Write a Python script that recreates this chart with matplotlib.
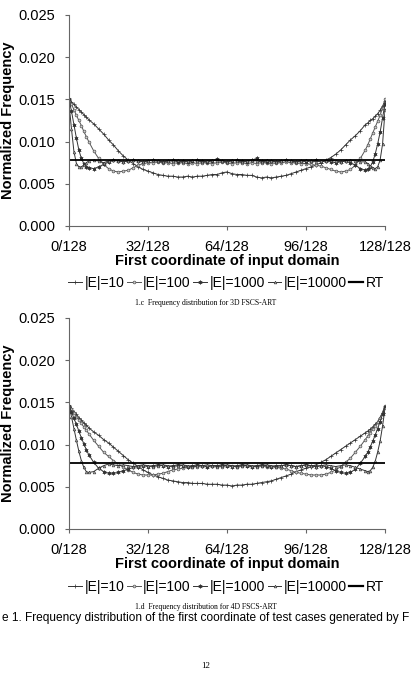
import matplotlib
matplotlib.use("Agg")
import matplotlib.pyplot as plt
from matplotlib.lines import Line2D

plt.rcParams['font.family'] = ['Liberation Sans', 'DejaVu Sans']

# x positions, in 1/128 units of the first coordinate
x = list(range(0, 9)) + list(range(10, 120, 2)) + list(range(120, 129))

# values in units of 1e-4 (normalized frequency)
# 3D FSCS-ART
e10_3d = [150, 147, 144, 141, 138, 135, 132, 129, 126,
          121, 115, 109, 102, 96, 89, 83, 78, 74, 70,
          67, 65, 63, 61, 60, 59, 59, 58, 58, 59,
          58, 59, 59, 60, 61, 61, 63, 64, 62, 61,
          61, 60, 60, 58, 57, 58, 57, 58, 59, 60,
          62, 64, 66, 68, 70, 72, 75, 78, 81, 85,
          90, 96, 102, 107, 113,
          120, 122, 125, 127, 130, 133, 137, 142, 148]
e100_3d = [150, 144, 138, 131, 125, 119, 112, 106, 100,
           89, 80, 73, 68, 65, 64, 65, 66, 69, 72,
           74, 75, 75, 76, 75, 75, 74, 75, 75, 74,
           75, 74, 75, 75, 74, 75, 76, 75, 74, 75,
           75, 74, 75, 74, 75, 75, 74, 75, 75, 76,
           75, 75, 74, 74, 73, 72, 71, 69, 67, 65,
           64, 65, 67, 72, 80,
           90, 96, 103, 110, 117, 124, 131, 140, 150]
e1000_3d = [150, 136, 120, 104, 90, 80, 74, 70, 69,
            68, 70, 73, 76, 78, 77, 76, 77, 78, 77,
            76, 77, 78, 77, 76, 77, 78, 76, 77, 76,
            77, 78, 77, 76, 77, 79, 77, 76, 77, 78,
            77, 76, 78, 80, 77, 76, 77, 76, 77, 78,
            77, 76, 77, 76, 77, 78, 76, 77, 76, 75,
            76, 77, 75, 72, 68,
            66, 67, 70, 76, 85, 97, 111, 128, 145]
e10000_3d = [145, 115, 88, 74, 70, 70, 72, 75, 77,
             78, 77, 75, 77, 78, 77, 76, 77, 78, 77,
             76, 77, 78, 77, 76, 77, 77, 78, 76, 77,
             78, 77, 76, 77, 78, 77, 77, 76, 78, 77,
             76, 77, 78, 77, 76, 78, 77, 76, 77, 78,
             77, 76, 77, 78, 77, 76, 77, 77, 78, 77,
             76, 77, 78, 77, 76,
             76, 74, 71, 69, 68, 70, 78, 97, 137]

# 4D FSCS-ART
e10_4d = [146, 143, 139, 136, 132, 129, 126, 123, 120,
          115, 111, 106, 102, 97, 92, 87, 82, 78, 74,
          70, 67, 64, 62, 60, 58, 57, 56, 55, 55,
          54, 54, 54, 53, 53, 53, 52, 52, 51, 52,
          52, 53, 53, 54, 55, 56, 57, 59, 61, 63,
          65, 68, 70, 72, 74, 76, 79, 82, 86, 90,
          94, 98, 102, 106, 110,
          114, 116, 118, 121, 124, 127, 132, 138, 145]
e100_4d = [146, 142, 138, 133, 129, 125, 121, 117, 113,
           105, 98, 91, 86, 81, 77, 73, 70, 67, 65,
           64, 64, 64, 65, 66, 68, 70, 71, 72, 73,
           74, 74, 75, 74, 75, 75, 74, 75, 75, 74,
           75, 75, 74, 75, 75, 74, 74, 73, 72, 71,
           69, 67, 66, 65, 64, 64, 64, 65, 67, 70,
           74, 79, 84, 91, 98,
           106, 110, 114, 118, 122, 127, 132, 138, 146]
e1000_4d = [146, 139, 131, 124, 116, 108, 101, 94, 88,
            79, 72, 68, 66, 66, 67, 69, 71, 73, 74,
            75, 74, 75, 76, 75, 74, 75, 76, 75, 74,
            75, 76, 75, 74, 75, 75, 76, 75, 74, 75,
            76, 75, 74, 75, 76, 75, 74, 75, 75, 76,
            75, 74, 75, 76, 75, 74, 75, 74, 72, 69,
            67, 66, 67, 71, 78,
            86, 91, 97, 104, 111, 119, 127, 136, 145]
e10000_4d = [146, 133, 119, 105, 92, 81, 73, 68, 67,
             68, 72, 75, 77, 76, 75, 76, 75, 74, 75,
             76, 75, 74, 75, 76, 75, 74, 75, 76, 75,
             74, 75, 75, 76, 75, 74, 75, 76, 75, 74,
             75, 76, 75, 74, 75, 76, 75, 74, 75, 76,
             75, 74, 75, 76, 75, 74, 75, 76, 75, 74,
             75, 76, 75, 73, 71,
             69, 68, 69, 73, 80, 91, 104, 122, 143]

rt_x = [0, 128]
rt_y = [0.0078, 0.0078]

labels = ['|E|=10', '|E|=100', '|E|=1000', '|E|=10000', 'RT']
xticks = [0, 32, 64, 96, 128]
xticklabels = ['0/128', '32/128', '64/128', '96/128', '128/128']
yticks = [0.0, 0.005, 0.010, 0.015, 0.020, 0.025]

styles = [
    dict(marker='+', ms=3.0, mew=0.5, color='#333333'),
    dict(marker='o', ms=2.0, mew=0.5, color='#555555', mfc='#cccccc'),
    dict(marker=(6, 2, 0), ms=2.8, mew=0.45, color='#333333'),
    dict(marker='^', ms=2.0, mew=0.4, color='#333333', mfc='#aaaaaa'),
]


def draw(ax, series, caption, cap_y):
    for vals, st, lab in zip(series, styles, labels):
        ax.plot(x, [v * 1e-4 for v in vals], lw=0.7, label=lab, **st)
    ax.plot(rt_x, rt_y, color='black', lw=1.3, label='RT')
    ax.set_xlim(0, 128)
    ax.set_ylim(0, 0.025)
    ax.set_xticks(xticks)
    ax.set_xticklabels(xticklabels)
    ax.set_yticks(yticks)
    ax.set_yticklabels(['%.3f' % t for t in yticks])
    ax.tick_params(labelsize=10.5, length=3, width=0.8, color='#666666', pad=7)
    for s in ['top', 'right']:
        ax.spines[s].set_visible(False)
    for s in ['left', 'bottom']:
        ax.spines[s].set_color('#666666')
        ax.spines[s].set_linewidth(0.8)
    ax.set_xlabel('First coordinate of input domain', fontsize=10.5,
                  fontweight='bold', labelpad=0)
    ax.set_ylabel('Normalized Frequency', fontsize=10.5, fontweight='bold',
                  labelpad=2)
    handles = [Line2D([], [], lw=0.7, **st) for st in styles]
    handles.append(Line2D([], [], color='black', lw=1.6))
    ax.legend(handles, labels, loc='center', ncol=5, frameon=False,
              bbox_to_anchor=(0.55, cap_y + 0.03), bbox_transform=fig.transFigure,
              fontsize=10, handlelength=1.0, handletextpad=0.15,
              columnspacing=0.2, borderpad=0)
    fig.text(0.5, cap_y, caption, ha='center', va='center', fontsize=5.5,
             family='Liberation Serif')


fig = plt.figure(figsize=(4.11, 6.75), dpi=100)
ax1 = fig.add_axes([0.1679, 0.6652, 0.7689, 0.3126])
ax2 = fig.add_axes([0.1679, 0.2163, 0.7689, 0.3126])

draw(ax1, [e10_3d, e100_3d, e1000_3d, e10000_3d],
     '1.c  Frequency distribution for 3D FSCS-ART', 1 - 303 / 675)
draw(ax2, [e10_4d, e100_4d, e1000_4d, e10000_4d],
     '1.d  Frequency distribution for 4D FSCS-ART', 1 - 607 / 675)

fig.text(0.5, 1 - 618 / 675,
         'e 1. Frequency distribution of the first coordinate of test cases generated by F',
         ha='center', va='center', fontsize=8.6)
fig.text(0.5, 1 - 666 / 675, '12', ha='center', va='center', fontsize=6.5,
         family='Liberation Serif')

fig.savefig('out.png', dpi=100)
